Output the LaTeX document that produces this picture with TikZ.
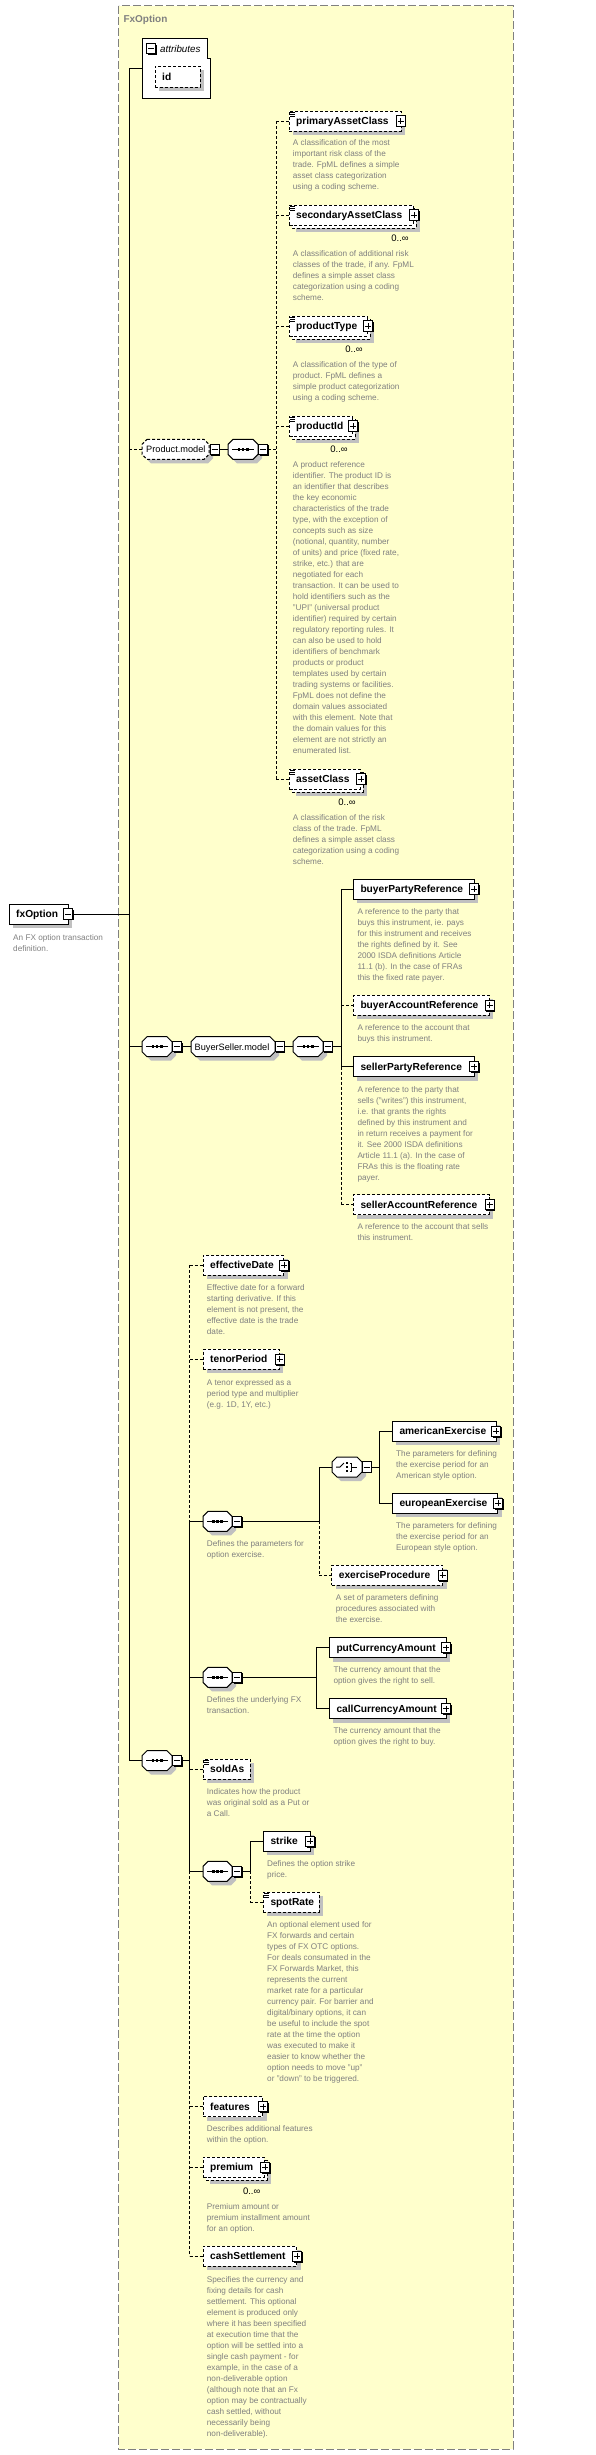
\documentclass[tikz,border=0pt]{standalone}
\usepackage{fontspec}
\setmainfont{Liberation Sans}
\usetikzlibrary{calc}
\definecolor{ylw}{HTML}{FFFFCC}
\definecolor{shc}{HTML}{C0C0C0}
\definecolor{dgray}{HTML}{808080}
\newcommand\lblfont{\bfseries\fontsize{10.2}{12}\selectfont}
\newcommand\descfont{\fontsize{8.2}{11}\selectfont}
\newcommand\modfont{\fontsize{9.2}{11}\selectfont}
\tikzset{
  dsh/.style={dash pattern=on 3pt off 2pt},
  ln/.style={line width=1pt},
  ebox/.style={draw,line width=1pt,fill=white,rectangle,inner sep=0,minimum height=20pt},
  lbl/.style={inner sep=0,anchor=west,font=\lblfont,text height=7.3pt,text depth=0pt},
  mlbl/.style={inner sep=0,anchor=west,font=\modfont,text height=6.6pt,text depth=0pt},
  desc/.style={inner sep=0,anchor=north west,align=left,font=\descfont,text=dgray},
  pmbox/.style={draw,line width=1pt,fill=white,minimum width=9pt,minimum height=10.5pt,inner sep=0},
  hid/.style={inner sep=0,draw=none,rectangle,minimum height=20pt},
  zi/.style={inner sep=0,font=\fontsize{9.5}{11}\selectfont,text height=6.8pt,text depth=0pt}
}
\newcommand\El[6]{%
  \fill[shc] ({(#3)+4},{(#5)-6}) rectangle ({(#4)+4},{(#5)+14});
  \node[ebox,#1,minimum width={(#4)-(#3)}] (#2) at ({((#3)+(#4))/2},#5) {};
  \node[lbl] (#2-t) at ({(#3)+7},#5) {#6};}
\newcommand\ElM[6]{%
  \fill[shc] ({(#3)+7},{(#5)-3}) rectangle ({(#4)+7},{(#5)+17});
  \draw[line width=1pt,fill=white,#1] ({(#3)+3},{(#5)-7}) rectangle ({(#4)+3},{(#5)+13});
  \node[ebox,#1,minimum width={(#4)-(#3)}] (#2) at ({((#3)+(#4))/2},#5) {};
  \node[lbl] (#2-t) at ({(#3)+7},#5) {#6};}
\newcommand\Doc[2]{%
  \draw[line width=0.9pt] ({(#1)+1},{(#2)-9}) -- ({(#1)+6},{(#2)-9})
    ({(#1)+1},{(#2)-7}) -- ({(#1)+6},{(#2)-7})
    ({(#1)+1},{(#2)-5}) -- ({(#1)+6},{(#2)-5});}
\newcommand\Pl[3]{%
  \fill ({(#2)-3.5},{(#3)-4.2}) rectangle ({(#2)+5.6},{(#3)+6.4});
  \node[pmbox] (#1) at (#2,#3) {};
  \draw[line width=1pt] ({(#2)-3},#3) -- ({(#2)+3},#3) (#2,{(#3)-3}) -- (#2,{(#3)+3});}
\newcommand\Mn[3]{%
  \fill ({(#2)-3.5},{(#3)-4.2}) rectangle ({(#2)+5.6},{(#3)+6.4});
  \node[pmbox] (#1) at (#2,#3) {};
  \draw[line width=1pt] ({(#2)-3},#3) -- ({(#2)+3},#3);}
\newcommand\Oct[5]{%
  \fill[shc] ({(#2)+9},{(#4)-6}) -- ({(#3)-1},{(#4)-6}) -- ({(#3)+4},{(#4)-1}) -- ({(#3)+4},{(#4)+9})
     -- ({(#3)-1},{(#4)+14}) -- ({(#2)+9},{(#4)+14}) -- ({(#2)+4},{(#4)+9}) -- ({(#2)+4},{(#4)-1}) -- cycle;
  \node[hid,minimum width={(#3)-(#2)}] (#1) at ({((#2)+(#3))/2},#4) {};
  \draw[line width=1pt,fill=white,#5] ({(#2)+5},{(#4)-10}) -- ({(#3)-5},{(#4)-10}) -- (#3,{(#4)-5}) -- (#3,{(#4)+5})
     -- ({(#3)-5},{(#4)+10}) -- ({(#2)+5},{(#4)+10}) -- (#2,{(#4)+5}) -- (#2,{(#4)-5}) -- cycle;}
\newcommand\Sq[3]{%
  \draw[line width=1pt] ({(#1)+4},#3) -- ({(#2)-4},#3);
  \foreach \qq in {-4.2,0,4.2} \fill ({((#1)+(#2))/2+\qq-1.3},{(#3)-1.3}) rectangle +(2.6,2.6);}
\newcommand\Zi[3]{\node[zi] (#1) at (#2,#3) {0..∞};}
\newcommand\Ds[4]{\node[desc] (#1) at (#2,{(#3)-4.7}) {\strut#4};}
\begin{document}
\begin{tikzpicture}[x=1pt,y=-1pt]
\useasboundingbox (0,0) rectangle (596,2455);
% container
\draw[dgray,line width=1pt,dash pattern=on 8pt off 3pt,fill=ylw] (118.5,5.5) rectangle (513,2449);
\node[anchor=west,inner sep=0,font=\bfseries\fontsize{10}{12}\selectfont,text=dgray,text height=7.2pt,text depth=0pt] (title) at (123.3,19) {FxOption};

% root
\El{}{fx}{9}{68}{914}{fxOption}
\Mn{fx-m}{68}{914}
\Ds{fx-d}{13}{937}{An FX option transaction\\definition.}

% attributes
\node[hid,minimum width=68pt,minimum height=60pt] (attr) at (176,68) {};
\draw[line width=1pt,fill=white] (142,38) -- (207,38) -- (207,58) -- (210,58) -- (210,98) -- (142,98) -- cycle;
\Mn{attr-m}{151.3}{48.7}
\node[inner sep=0,anchor=west,font=\itshape\fontsize{9.8}{11}\selectfont,text height=7pt,text depth=0pt] (attr-t) at (160,48.5) {attributes};
\fill[shc] (158.5,69.5) rectangle (203.5,90.5);
\node[ebox,dsh,minimum width=45pt,minimum height=21pt] (id) at (177.5,76.5) {};
\node[lbl] (id-t) at (162,76.5) {id};

% Product.model
\Oct{pm}{142}{209}{449.3}{dsh}
\node[mlbl] (pm-t) at (146,449.3) {Product.model};
\Mn{pm-m}{214.5}{449.3}
\Oct{ps}{228}{258}{449.3}{solid}
\Sq{228}{258}{449.3}
\Mn{ps-m}{263}{449.3}

\El{dsh}{pac}{289}{401}{121}{primaryAssetClass}
\Doc{289}{121}
\Pl{pac-p}{400.5}{121}
\Ds{pac-d}{292.7}{142.7}{A classification of the most\\important risk class of the\\trade. FpML defines a simple\\asset class categorization\\using a coding scheme.}

\ElM{dsh}{sac}{289}{413}{215}{secondaryAssetClass}
\Doc{289}{215}
\Pl{sac-p}{414}{215}
\Zi{sac-z}{400}{238}
\Ds{sac-d}{292.7}{253.7}{A classification of additional risk\\classes of the trade, if any. FpML\\defines a simple asset class\\categorization using a coding\\scheme.}

\ElM{dsh}{pty}{289}{367}{326}{productType}
\Doc{289}{326}
\Pl{pty-p}{368}{326}
\Zi{pty-z}{354}{349}
\Ds{pty-d}{292.7}{364.7}{A classification of the type of\\product. FpML defines a\\simple product categorization\\using a coding scheme.}

\ElM{dsh}{pid}{289}{352}{426}{productId}
\Doc{289}{426}
\Pl{pid-p}{353.3}{426}
\Zi{pid-z}{339}{449}
\Ds{pid-d}{292.7}{464.7}{A product reference\\identifier. The product ID is\\an identifier that describes\\the key economic\\characteristics of the trade\\type, with the exception of\\concepts such as size\\(notional, quantity, number\\of units) and price (fixed rate,\\strike, etc.) that are\\negotiated for each\\transaction. It can be used to\\hold identifiers such as the\\"UPI" (universal product\\identifier) required by certain\\regulatory reporting rules. It\\can also be used to hold\\identifiers of benchmark\\products or product\\templates used by certain\\trading systems or facilities.\\FpML does not define the\\domain values associated\\with this element. Note that\\the domain values for this\\element are not strictly an\\enumerated list.}

\ElM{dsh}{ac}{289}{360}{779}{assetClass}
\Doc{289}{779}
\Pl{ac-p}{361}{779}
\Zi{ac-z}{347}{802}
\Ds{ac-d}{292.7}{817.7}{A classification of the risk\\class of the trade. FpML\\defines a simple asset class\\categorization using a coding\\scheme.}

% BuyerSeller
\Oct{bs1}{142}{172}{1046.7}{solid}
\Sq{142}{172}{1046.7}
\Mn{bs1-m}{177}{1046.7}
\Oct{bsm}{191}{275}{1046.7}{solid}
\node[mlbl] (bsm-t) at (194.5,1046.7) {BuyerSeller.model};
\Mn{bsm-m}{279.5}{1046.7}
\Oct{bs2}{293}{323}{1046.7}{solid}
\Sq{293}{323}{1046.7}
\Mn{bs2-m}{327.5}{1046.7}

\El{}{bpr}{353.3}{474}{889}{buyerPartyReference}
\Pl{bpr-p}{474}{889}
\Ds{bpr-d}{357.3}{911.7}{A reference to the party that\\buys this instrument, ie. pays\\for this instrument and receives\\the rights defined by it. See\\2000 ISDA definitions Article\\11.1 (b). In the case of FRAs\\this the fixed rate payer.}
\El{dsh}{bar}{353.3}{489}{1005.3}{buyerAccountReference}
\Pl{bar-p}{489.5}{1005.3}
\Ds{bar-d}{357.3}{1027.7}{A reference to the account that\\buys this instrument.}
\El{}{spr}{353.3}{474}{1066.7}{sellerPartyReference}
\Pl{spr-p}{474}{1066.7}
\Ds{spr-d}{357.3}{1089}{A reference to the party that\\sells ("writes") this instrument,\\i.e. that grants the rights\\defined by this instrument and\\in return receives a payment for\\it. See 2000 ISDA definitions\\Article 11.1 (a). In the case of\\FRAs this is the floating rate\\payer.}
\El{dsh}{sar}{353.3}{489}{1204.7}{sellerAccountReference}
\Pl{sar-p}{489.5}{1204.7}
\Ds{sar-d}{357.3}{1226.7}{A reference to the account that sells\\this instrument.}

% main sequence
\Oct{ms}{142}{172}{1760.7}{solid}
\Sq{142}{172}{1760.7}
\Mn{ms-m}{177}{1760.7}

\El{dsh}{ed}{203}{283.7}{1265.3}{effectiveDate}
\Pl{ed-p}{284}{1265.3}
\Ds{ed-d}{206.7}{1287.7}{Effective date for a forward\\starting derivative. If this\\element is not present, the\\effective date is the trade\\date.}
\El{dsh}{tp}{203}{279.3}{1359.3}{tenorPeriod}
\Pl{tp-p}{279.5}{1359.3}
\Ds{tp-d}{206.7}{1382}{A tenor expressed as a\\period type and multiplier\\(e.g. 1D, 1Y, etc.)}

\Oct{ex}{203}{232}{1521.3}{solid}
\Sq{203}{232}{1521.3}
\Mn{ex-m}{237}{1521.3}
\Ds{ex-d}{206.7}{1543.7}{Defines the parameters for\\option exercise.}
\Oct{ch}{332}{362}{1467}{solid}
\draw[line width=1pt] (336,1467) -- (340,1467) -- (344,1463);
\foreach \qq in {-4,0,4} \fill (345.5,1466+\qq) rectangle +(2.2,2.2);
\draw[line width=1pt] (349.5,1463) -- (351.5,1463) -- (351.5,1471) -- (349.5,1471) (351.5,1467) -- (357,1467);
\Mn{ch-m}{366.5}{1467}
\El{}{am}{392.3}{496}{1431.3}{americanExercise}
\Pl{am-p}{496}{1431.3}
\Ds{am-d}{396}{1453.7}{The parameters for defining\\the exercise period for an\\American style option.}
\El{}{eu}{392.3}{497.7}{1503.3}{europeanExercise}
\Pl{eu-p}{498}{1503.3}
\Ds{eu-d}{396}{1525.7}{The parameters for defining\\the exercise period for an\\European style option.}
\El{dsh}{ep}{331.7}{442.7}{1575.3}{exerciseProcedure}
\Pl{ep-p}{442.5}{1575.3}
\Ds{ep-d}{335.7}{1597.7}{A set of parameters defining\\procedures associated with\\the exercise.}

\Oct{un}{203}{232}{1677.3}{solid}
\Sq{203}{232}{1677.3}
\Mn{un-m}{237}{1677.3}
\Ds{un-d}{206.7}{1699.7}{Defines the underlying FX\\transaction.}
\El{}{pca}{329.3}{446}{1647.7}{putCurrencyAmount}
\Pl{pca-p}{446}{1647.7}
\Ds{pca-d}{333.3}{1669.7}{The currency amount that the\\option gives the right to sell.}
\El{}{cca}{329.3}{446}{1708.7}{callCurrencyAmount}
\Pl{cca-p}{446}{1708.7}
\Ds{cca-d}{333.3}{1730.7}{The currency amount that the\\option gives the right to buy.}

\El{dsh}{sa}{203}{250.3}{1769.3}{soldAs}
\Doc{203}{1769.3}
\Ds{sa-d}{206.7}{1791.7}{Indicates how the product\\was original sold as a Put or\\a Call.}

\Oct{st}{203}{232}{1871.3}{solid}
\Sq{203}{232}{1871.3}
\Mn{st-m}{237}{1871.3}
\El{}{sk}{263.3}{310}{1841.3}{strike}
\Pl{sk-p}{310.3}{1841.3}
\Ds{sk-d}{267}{1863.7}{Defines the option strike\\price.}
\El{dsh}{sr}{263.3}{319.3}{1902.3}{spotRate}
\Doc{263.3}{1902.3}
\Ds{sr-d}{267}{1924.7}{An optional element used for\\FX forwards and certain\\types of FX OTC options.\\For deals consumated in the\\FX Forwards Market, this\\represents the current\\market rate for a particular\\currency pair. For barrier and\\digital/binary options, it can\\be useful to include the spot\\rate at the time the option\\was executed to make it\\easier to know whether the\\option needs to move "up"\\or "down" to be triggered.}

\El{dsh}{ft}{203}{262.7}{2106.7}{features}
\Pl{ft-p}{263}{2106.7}
\Ds{ft-d}{206.7}{2128.7}{Describes additional features\\within the option.}
\ElM{dsh}{pr}{203}{264}{2167.3}{premium}
\Pl{pr-p}{265.3}{2167.3}
\Zi{pr-z}{251.7}{2191}
\Ds{pr-d}{206.7}{2206.7}{Premium amount or\\premium installment amount\\for an option.}
\El{dsh}{cs}{203}{296.7}{2256.3}{cashSettlement}
\Pl{cs-p}{297}{2256.3}
\Ds{cs-d}{206.7}{2279}{Specifies the currency and\\fixing details for cash\\settlement. This optional\\element is produced only\\where it has been specified\\at execution time that the\\option will be settled into a\\single cash payment - for\\example, in the case of a\\non-deliverable option\\(although note that an Fx\\option may be contractually\\cash settled, without\\necessarily being\\non-deliverable).}

% ---------- connectors ----------
\coordinate (mv1) at (129,68.3);
\coordinate (mv2) at (129,1760.7);
\draw[ln] (mv1) -- (mv2);
\draw[ln] (mv1) -- (mv1 -| attr.west);
\draw[ln] (fx-m.east) -- (fx-m.east -| mv1);
\draw[ln,dsh] (pm.west -| mv1) -- (pm.west);
\draw[ln] (bs1.west -| mv1) -- (bs1.west);
\draw[ln] (mv2) -- (ms.west);

% product.model
\coordinate (pv1) at (276,121);
\coordinate (pv2) at (276,779);
\draw[ln] (pm-m.east) -- (ps.west);
\draw[ln,dsh] (ps-m.east) -- (ps-m.east -| pv1);
\draw[ln,dsh] (pv1) -- (pv2);
\foreach \n in {pac,sac,pty,pid,ac} \draw[ln,dsh] (\n.west -| pv1) -- (\n.west);

% buyer seller
\coordinate (bv1) at (341,889);
\coordinate (bv2) at (341,1066.7);
\coordinate (bv3) at (341,1204.7);
\draw[ln] (bs1-m.east) -- (bsm.west);
\draw[ln] (bsm-m.east) -- (bs2.west);
\draw[ln] (bs2-m.east) -- (bs2-m.east -| bv1);
\draw[ln] (bv1) -- (bv2);
\draw[ln,dsh] (bv2) -- (bv3);
\draw[ln] (bv1) -- (bpr.west);
\draw[ln] (bv2) -- (spr.west);
\draw[ln,dsh] (bar.west -| bv1) -- (bar.west);
\draw[ln,dsh] (bv3) -- (sar.west);

% main sequence
\coordinate (sv1) at (189.5,1265.3);
\coordinate (svA) at (189.5,1521.3);
\coordinate (svB) at (189.5,1871.3);
\coordinate (sv2) at (189.5,2256.3);
\draw[ln] (ms-m.east) -- (ms-m.east -| sv1);
\draw[ln,dsh] (sv1) -- (svA);
\draw[ln] (svA) -- (svB);
\draw[ln,dsh] (svB) -- (sv2);
\foreach \n in {ed,tp,sa,ft,pr,cs} \draw[ln,dsh] (\n.west -| sv1) -- (\n.west);
\foreach \n in {ex,un,st} \draw[ln] (\n.west -| sv1) -- (\n.west);

% exercise
\coordinate (ev1) at (319,1467);
\coordinate (evA) at (319,1521.3);
\coordinate (ev2) at (319,1575.3);
\draw[ln] (ex-m.east) -- (evA);
\draw[ln] (ev1) -- (evA);
\draw[ln,dsh] (evA) -- (ev2);
\draw[ln] (ev1) -- (ch.west);
\draw[ln,dsh] (ev2) -- (ep.west);
\coordinate (cv1) at (379.3,1431.3);
\coordinate (cv2) at (379.3,1503.3);
\draw[ln] (ch-m.east) -- (ch-m.east -| cv1);
\draw[ln] (cv1) -- (cv2);
\draw[ln] (cv1) -- (am.west);
\draw[ln] (cv2) -- (eu.west);

% underlying
\coordinate (uv1) at (316,1647.7);
\coordinate (uv2) at (316,1708.7);
\draw[ln] (un-m.east) -- (un-m.east -| uv1);
\draw[ln] (uv1) -- (uv2);
\draw[ln] (uv1) -- (pca.west);
\draw[ln] (uv2) -- (cca.west);

% strike
\coordinate (kv1) at (250.3,1841.3);
\coordinate (kvA) at (250.3,1871.3);
\coordinate (kv2) at (250.3,1902.3);
\draw[ln] (st-m.east) -- (kvA);
\draw[ln] (kv1) -- (kvA);
\draw[ln,dsh] (kvA) -- (kv2);
\draw[ln] (kv1) -- (sk.west);
\draw[ln,dsh] (kv2) -- (sr.west);
\end{tikzpicture}
\end{document}
